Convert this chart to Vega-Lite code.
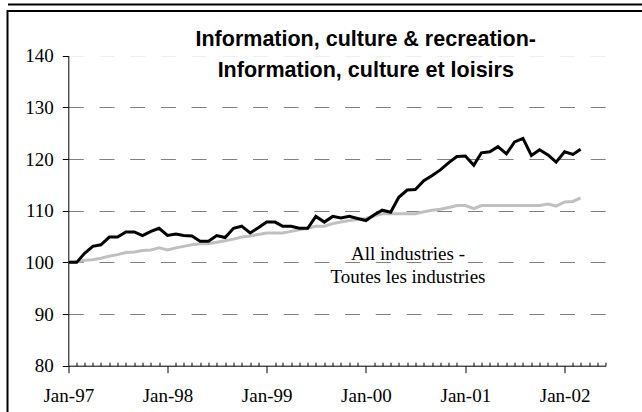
{
  "$schema": "https://vega.github.io/schema/vega-lite/v6.json",
  "autosize": {"type": "none"},
  "padding": {"left": 7.5, "top": 11, "right": -10, "bottom": -10},
  "width": 644.5,
  "height": 411,
  "background": "white",
  "config": {"view": {"stroke": "#000000", "strokeWidth": 2}},
  "title": {
    "text": ["Information, culture & recreation-", "Information, culture et loisirs"],
    "font": "Liberation Sans",
    "fontSize": 21.5,
    "fontWeight": "bold",
    "color": "#000000",
    "anchor": "middle",
    "frame": "group",
    "baseline": "top",
    "offset": -77,
    "dx": 36,
    "lineHeight": 31
  },
  "layer": [
    {
      "data": {
        "values": [
          {"date": "1997-01", "ict": 100.0, "all": 100.0},
          {"date": "1997-02", "ict": 100.0, "all": 100.1},
          {"date": "1997-03", "ict": 101.7, "all": 100.4},
          {"date": "1997-04", "ict": 103.1, "all": 100.5},
          {"date": "1997-05", "ict": 103.4, "all": 100.8},
          {"date": "1997-06", "ict": 104.9, "all": 101.2},
          {"date": "1997-07", "ict": 104.9, "all": 101.5},
          {"date": "1997-08", "ict": 105.9, "all": 101.9},
          {"date": "1997-09", "ict": 105.9, "all": 102.0},
          {"date": "1997-10", "ict": 105.2, "all": 102.3},
          {"date": "1997-11", "ict": 106.0, "all": 102.4},
          {"date": "1997-12", "ict": 106.6, "all": 102.8},
          {"date": "1998-01", "ict": 105.2, "all": 102.4},
          {"date": "1998-02", "ict": 105.5, "all": 102.8},
          {"date": "1998-03", "ict": 105.2, "all": 103.1},
          {"date": "1998-04", "ict": 105.1, "all": 103.4},
          {"date": "1998-05", "ict": 104.1, "all": 103.6},
          {"date": "1998-06", "ict": 104.1, "all": 103.6},
          {"date": "1998-07", "ict": 105.2, "all": 103.9},
          {"date": "1998-08", "ict": 104.8, "all": 104.2},
          {"date": "1998-09", "ict": 106.6, "all": 104.5},
          {"date": "1998-10", "ict": 107.0, "all": 104.9},
          {"date": "1998-11", "ict": 105.7, "all": 105.1},
          {"date": "1998-12", "ict": 106.7, "all": 105.4},
          {"date": "1999-01", "ict": 107.8, "all": 105.7},
          {"date": "1999-02", "ict": 107.8, "all": 105.7},
          {"date": "1999-03", "ict": 107.0, "all": 105.7},
          {"date": "1999-04", "ict": 107.0, "all": 106.0},
          {"date": "1999-05", "ict": 106.6, "all": 106.3},
          {"date": "1999-06", "ict": 106.6, "all": 106.6},
          {"date": "1999-07", "ict": 108.9, "all": 107.0},
          {"date": "1999-08", "ict": 107.8, "all": 107.0},
          {"date": "1999-09", "ict": 108.9, "all": 107.5},
          {"date": "1999-10", "ict": 108.6, "all": 107.8},
          {"date": "1999-11", "ict": 108.9, "all": 108.1},
          {"date": "1999-12", "ict": 108.5, "all": 108.3},
          {"date": "2000-01", "ict": 108.1, "all": 108.5},
          {"date": "2000-02", "ict": 109.2, "all": 109.0},
          {"date": "2000-03", "ict": 110.1, "all": 109.4},
          {"date": "2000-04", "ict": 109.7, "all": 109.4},
          {"date": "2000-05", "ict": 112.6, "all": 109.4},
          {"date": "2000-06", "ict": 114.0, "all": 109.4},
          {"date": "2000-07", "ict": 114.1, "all": 109.4},
          {"date": "2000-08", "ict": 115.8, "all": 109.8},
          {"date": "2000-09", "ict": 116.8, "all": 110.1},
          {"date": "2000-10", "ict": 117.9, "all": 110.3},
          {"date": "2000-11", "ict": 119.3, "all": 110.6},
          {"date": "2000-12", "ict": 120.5, "all": 111.0},
          {"date": "2001-01", "ict": 120.6, "all": 111.0},
          {"date": "2001-02", "ict": 118.8, "all": 110.4},
          {"date": "2001-03", "ict": 121.2, "all": 111.0},
          {"date": "2001-04", "ict": 121.4, "all": 111.0},
          {"date": "2001-05", "ict": 122.4, "all": 111.0},
          {"date": "2001-06", "ict": 121.0, "all": 111.0},
          {"date": "2001-07", "ict": 123.3, "all": 111.0},
          {"date": "2001-08", "ict": 124.0, "all": 111.0},
          {"date": "2001-09", "ict": 120.7, "all": 111.0},
          {"date": "2001-10", "ict": 121.8, "all": 111.0},
          {"date": "2001-11", "ict": 120.8, "all": 111.3},
          {"date": "2001-12", "ict": 119.4, "all": 110.9},
          {"date": "2002-01", "ict": 121.4, "all": 111.7},
          {"date": "2002-02", "ict": 120.9, "all": 111.8},
          {"date": "2002-03", "ict": 121.9, "all": 112.5}
        ],
        "format": {"parse": {"date": "date:'%Y-%m'"}}
      },
      "layer": [
        {
          "mark": {"type": "line", "color": "#c0c0c0", "strokeWidth": 3},
          "encoding": {
            "x": {
              "field": "date",
              "type": "temporal",
              "scale": {
                "domain": [{"year": 1997, "month": 1, "date": 1}, {"year": 2002, "month": 6, "date": 1}],
                "range": [60.8, 598.1]
              },
              "axis": {
                "title": null,
                "orient": "bottom",
                "offset": -56.3,
                "grid": false,
                "tickCount": {"interval": "month", "step": 1},
                "tickSize": {"condition": {"test": "month(datum.value) === 0", "value": 7}, "value": -3.5},
                "tickColor": "#000000",
                "tickWidth": 1,
                "domainColor": "#000000",
                "domainWidth": 1,
                "labelExpr": "month(datum.value) === 0 ? 'Jan-' + timeFormat(datum.value, '%y') : ''",
                "labelFont": "Liberation Serif",
                "labelFontSize": 19,
                "labelColor": "#000000",
                "labelPadding": 14,
                "labelOverlap": false,
                "labelFlush": false,
                "labelBound": false
              }
            },
            "y": {
              "field": "all",
              "type": "quantitative",
              "scale": {"domain": [80, 140], "range": [354.7, 44.7], "nice": false, "zero": false},
              "axis": {
                "title": null,
                "orient": "left",
                "offset": -60.8,
                "values": [80, 90, 100, 110, 120, 130, 140],
                "tickSize": 6,
                "tickColor": "#000000",
                "domainColor": "#000000",
                "labelFont": "Liberation Serif",
                "labelFontSize": 19,
                "labelColor": "#000000",
                "labelPadding": 9,
                "grid": true,
                "gridColor": {"condition": {"test": "datum.value >= 140 || datum.value <= 80", "value": "#eeeeee"}, "value": "#808080"},
                "gridDash": [15, 15.7],
                "gridWidth": 1
              }
            }
          }
        },
        {
          "mark": {"type": "line", "color": "#000000", "strokeWidth": 3},
          "encoding": {
            "x": {"field": "date", "type": "temporal"},
            "y": {"field": "ict", "type": "quantitative"}
          }
        },
        {
          "data": {"values": [{}]},
          "mark": {"type": "text", "font": "Liberation Serif", "fontSize": 19, "baseline": "top", "align": "center", "lineHeight": 23.3, "color": "#000000"},
          "encoding": {
            "x": {"datum": {"year": 2000, "month": 6, "date": 4}, "type": "temporal"},
            "y": {"datum": 103.36, "type": "quantitative"},
            "text": {"value": ["All industries -", "Toutes les industries"]}
          }
        }
      ]
    },
    {
      "data": {"values": [{"v": 0}]},
      "mark": {"type": "point", "opacity": 0},
      "encoding": {
        "x": {
          "field": "v",
          "type": "quantitative",
          "scale": {"domain": [0, 1], "range": [0, 660]},
          "axis": {"title": null, "orient": "top", "offset": 7, "domainWidth": 2, "domainColor": "#000000", "ticks": false, "labels": false, "grid": false}
        }
      }
    }
  ],
  "resolve": {"scale": {"x": "independent"}, "axis": {"x": "independent"}}
}
